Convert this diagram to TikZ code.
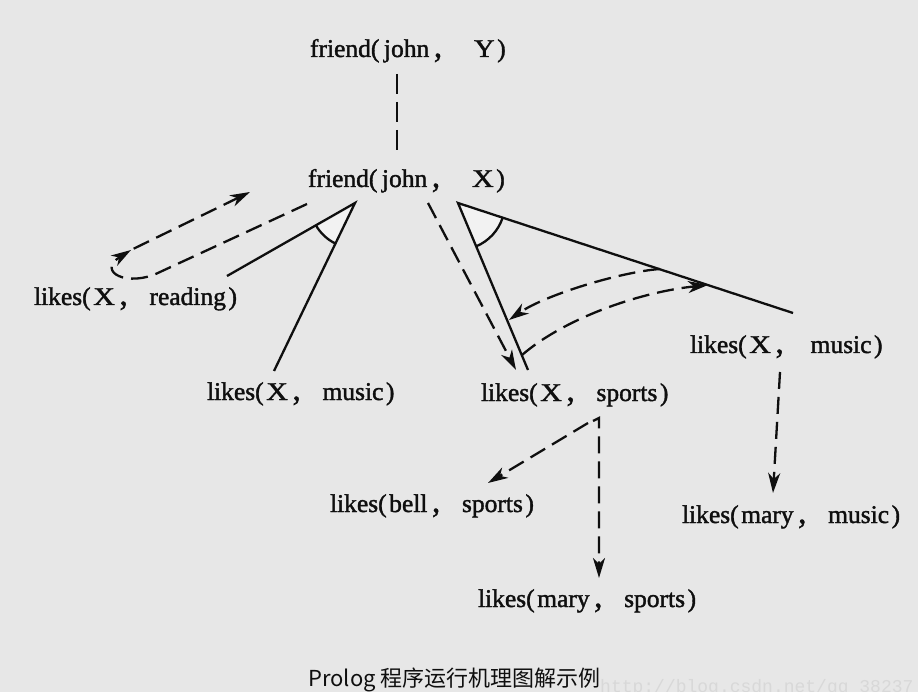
\documentclass[tikz,border=0pt]{standalone}
\usepackage{fontspec}
\usepackage{graphicx}
\setmainfont{Liberation Serif}[FakeBold=1.5]
\newfontfamily\cjk{Noto Sans CJK SC}
\newfontfamily\wmfont{Liberation Mono}
\usetikzlibrary{arrows.meta}
\definecolor{bgc}{RGB}{231,231,231}
\definecolor{wedgec}{RGB}{242,242,242}
\definecolor{wmc}{RGB}{216,216,216}
\definecolor{ink}{RGB}{15,15,15}
\newcommand{\zlp}{(\hspace{0.1em}}
\newcommand{\zrp}{\hspace{0.1em})}
\newcommand{\zcm}{\hspace{0.18em}\scalebox{1.3}{,}\hspace{0.85em}}
\newcommand{\zX}{\scalebox{1.18}[1]{X}}
\newcommand{\zY}{\scalebox{1.12}[1]{Y}}
\begin{document}
\begin{tikzpicture}[x=1pt,y=-1pt,
  lbl/.style={inner sep=0pt,outer sep=0pt,anchor=base west,text=ink,font=\fontsize{25.5}{30}\selectfont},
  solidln/.style={draw=ink,line width=2.3pt,line join=miter},
  dsh/.style={draw=ink,line width=2.3pt,dash pattern=on 17pt off 8pt},
  arr/.style={-{Stealth[length=20pt,width=12pt,inset=6pt]}},
]
\fill[bgc] (0,0) rectangle (918,692);
\useasboundingbox (0,0) rectangle (918,692);

% watermark
\begin{scope}
\clip (0,0) rectangle (918,692);
\node[inner sep=0pt,anchor=base west,text=wmc,font=\wmfont\fontsize{18}{20}\selectfont] (wm) at (600,692) {http://blog.csdn.net/qq\_38237};
\end{scope}

% texts
\node[lbl] (fy) at (310,57) {friend\zlp\hspace{0.08em}john\zcm\hspace{0.4em}\zY\zrp};
\node[lbl] (fx) at (308,187) {friend\zlp\hspace{0.08em}john\zcm\hspace{0.4em}\zX\zrp};
\node[lbl] (lr) at (34,305) {likes\zlp\zX\zcm reading\zrp};
\node[lbl] (lm) at (207,400) {likes\zlp\zX\zcm music\zrp};
\node[lbl] (ls) at (481,401) {likes\zlp\zX\zcm sports\zrp};
\node[lbl] (rm) at (690,353) {likes\zlp\zX\zcm\hspace{0.2em}music\zrp};
\node[lbl] (lb) at (330,512) {likes\zlp bell\zcm sports\zrp};
\node[lbl] (lms) at (478,607) {likes\zlp mary\zcm sports\zrp};
\node[lbl] (lmm) at (682,523) {likes\zlp mary\zcm music\zrp};
\node[inner sep=0pt,anchor=base west,text=ink,font=\cjk\fontsize{22}{27}\selectfont] (cap) at (308,686) {Prolog 程序运行机理图解示例};

% coordinates
\coordinate (v1) at (397,74);  \coordinate (v2) at (397,150);
\coordinate (la) at (355,203); \coordinate (la1) at (227,276); \coordinate (la2) at (274,371);
\coordinate (ra) at (458,203); \coordinate (ra1) at (528,370); \coordinate (ra2) at (793,313);
\coordinate (p1) at (307,204); \coordinate (p2) at (160,272);
\coordinate (p3) at (131,250); \coordinate (p4) at (250,192);
\coordinate (m1) at (428,203); \coordinate (m2) at (516,370);
\coordinate (c1s) at (660,269); \coordinate (c1e) at (509,320);
\coordinate (c2s) at (522,355); \coordinate (c2e) at (708,285);
\coordinate (b1) at (588,423); \coordinate (b2) at (488,483);
\coordinate (h0) at (593,421); \coordinate (s1) at (599,418); \coordinate (s2) at (599,578);
\coordinate (r1) at (780,372); \coordinate (r2) at (773,493);

% wedges (angle marks)
\fill[wedgec] (la) -- ++(150.3:45) arc[start angle=150.3,end angle=115.7,radius=45] -- cycle;
\fill[wedgec] (ra) -- ++(67.3:47) arc[start angle=67.3,end angle=18.2,radius=47] -- cycle;
\draw[solidln] (la) ++(150.3:45) arc[start angle=150.3,end angle=115.7,radius=45];
\draw[solidln] (ra) ++(67.3:47) arc[start angle=67.3,end angle=18.2,radius=47];

% solid branches
\draw[solidln] (la1) -- (la) -- (la2);
\draw[solidln] (ra1) -- (ra) -- (ra2);

% dashed connectors
\draw[dsh,dash pattern=on 20pt off 8pt] (v1) -- (v2);
\draw[dsh,arr] (p1) -- (p2) .. controls (128,288) and (96,272) .. (p3);
\draw[dsh,arr,shorten <=3pt] (p3) -- (p4);
\draw[dsh,arr] (m1) -- (m2);
\draw[dsh,arr] (c1s) .. controls (620,272) and (545,295) .. (c1e);
\draw[dsh,arr] (c2s) .. controls (565,318) and (640,292) .. (c2e);
\draw[dsh,arr] (b1) -- (b2);
\draw[dsh,arr] (h0) -- (s1) -- (s2);
\draw[dsh,arr] (r1) -- (r2);
\end{tikzpicture}
\end{document}
